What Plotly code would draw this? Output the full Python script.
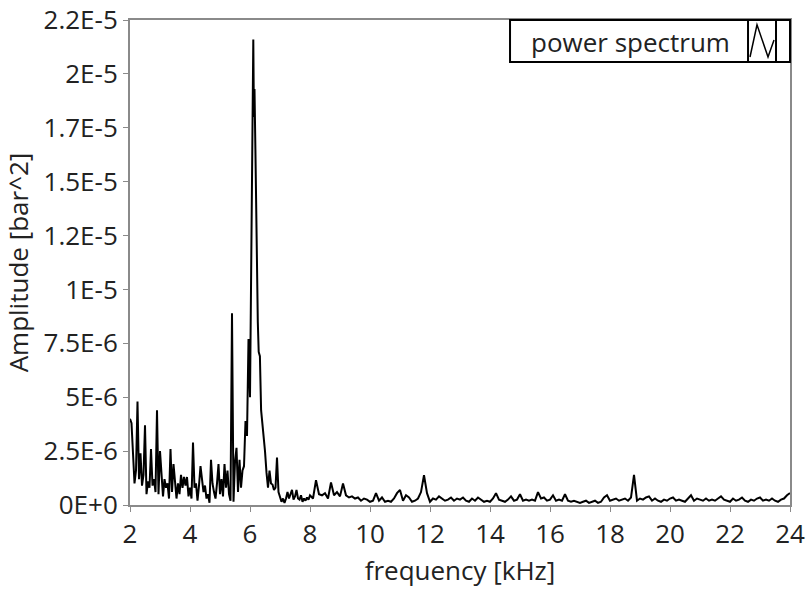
import numpy as np
import plotly.graph_objects as go

# ---------------- data (amplitude in units of 1e-6 bar^2) ----------------
# segment A: 2.00 .. 5.95 kHz, step 0.05
amp_low = [4.0, 3.8, 2.4, 1.0, 1.6, 4.8, 1.2, 2.4, 0.9, 1.4,
           3.7, 0.5, 1.1, 0.8, 2.6, 0.9, 1.2, 0.6, 4.4, 0.5,
           2.5, 1.4, 0.4, 1.2, 0.8, 1.0, 0.3, 2.6, 0.6, 1.9,
           1.0, 0.3, 1.0, 0.5, 1.4, 0.8, 1.3, 0.9, 1.3, 0.4,
           0.8, 0.3, 2.9, 0.8, 1.0, 0.2, 0.9, 1.8, 1.2, 0.6,
           0.9, 0.3, 0.5, 0.1, 2.1, 1.0, 0.6, 0.3, 1.0, 1.9,
           0.5, 1.2, 0.4, 1.9, 0.8, 1.6, 0.5, 0.2, 8.9, 0.15,
           2.0, 2.65, 0.6, 2.1, 0.8, 1.6, 1.8, 3.9, 3.2, 7.7]
# segment B: main peak, irregular frequencies
freq_peak = [6.00, 6.04, 6.08, 6.11, 6.13, 6.15, 6.18, 6.22, 6.26, 6.29,
             6.33, 6.37, 6.41, 6.45]
amp_peak = [5.0, 11.0, 16.8, 21.6, 18.0, 19.3, 16.5, 12.0, 8.5, 7.1,
            6.9, 4.4, 3.9, 3.2]
# segment C: 6.50 .. 7.95 kHz, step 0.05
amp_mid = [2.5, 1.5, 0.8, 1.6, 1.0, 0.95, 0.7, 0.8, 2.2, 0.6,
           0.35, 0.15, 0.3, 0.1, 0.3, 0.6, 0.3, 0.5, 0.7, 0.25,
           0.4, 0.7, 0.3, 0.25, 0.45, 0.15, 0.3, 0.2, 0.35, 0.25]
# segment D: 8.0 .. 24.0 kHz, step 0.1
amp_high = [0.45, 0.3, 1.15, 0.5, 0.45, 0.55, 0.3, 1.05, 0.45, 0.6,
            0.4, 1.0, 0.45, 0.35, 0.4, 0.3, 0.35, 0.2, 0.3, 0.25,
            0.15, 0.2, 0.55, 0.2, 0.35, 0.15, 0.2, 0.15, 0.3, 0.55,
            0.7, 0.2, 0.45, 0.35, 0.15, 0.2, 0.3, 0.6, 1.38, 0.55,
            0.15, 0.3, 0.25, 0.4, 0.3, 0.2, 0.25, 0.35, 0.2, 0.3,
            0.25, 0.35, 0.2, 0.15, 0.3, 0.2, 0.35, 0.25, 0.15, 0.2,
            0.15, 0.3, 0.55, 0.25, 0.2, 0.15, 0.25, 0.4, 0.2, 0.25,
            0.5, 0.2, 0.25, 0.2, 0.25, 0.2, 0.6, 0.3, 0.35, 0.2,
            0.25, 0.45, 0.2, 0.25, 0.2, 0.5, 0.2, 0.15, 0.2, 0.15,
            0.1, 0.15, 0.2, 0.1, 0.15, 0.2, 0.1, 0.15, 0.35, 0.45,
            0.2, 0.25, 0.3, 0.2, 0.25, 0.3, 0.2, 0.35, 1.4, 0.2,
            0.3, 0.25, 0.35, 0.4, 0.2, 0.3, 0.2, 0.15, 0.25, 0.2,
            0.3, 0.35, 0.2, 0.25, 0.2, 0.15, 0.3, 0.45, 0.2, 0.3,
            0.25, 0.2, 0.3, 0.2, 0.25, 0.2, 0.3, 0.4, 0.25, 0.2,
            0.15, 0.3, 0.2, 0.25, 0.35, 0.2, 0.15, 0.25, 0.2, 0.3,
            0.35, 0.2, 0.25, 0.2, 0.3, 0.2, 0.15, 0.25, 0.3, 0.45,
            0.55]

y_tickvals_e6 = [0, 2.5, 5, 7.5, 10, 12.5, 15, 17.5, 20, 22.5]
y_ticktext = ["0E+0", "2.5E-6", "5E-6", "7.5E-6", "1E-5", "1.2E-5",
              "1.5E-5", "1.7E-5", "2E-5", "2.2E-5"]
x_tickvals = [2, 4, 6, 8, 10, 12, 14, 16, 18, 20, 22, 24]

# ---------------- assemble ----------------
freq_low = list(np.round(2.0 + 0.05 * np.arange(len(amp_low)), 3))
freq_mid = list(np.round(6.5 + 0.05 * np.arange(len(amp_mid)), 3))
freq_high = list(np.round(8.0 + 0.1 * np.arange(len(amp_high)), 3))

freq = freq_low + freq_peak + freq_mid + freq_high
amp = np.array(amp_low + amp_peak + amp_mid + amp_high) * 1e-6
y_tickvals = [round(v * 1e-6, 14) for v in y_tickvals_e6]

FONT = "Open Sans"
TXT = "#222222"
AX = "#8a8a8a"
FS = 26

fig = go.Figure()
fig.add_trace(go.Scatter(x=freq, y=amp, mode="lines", name="power spectrum",
                         line=dict(color="black", width=2), showlegend=False))

fig.update_layout(
    width=807, height=597,
    margin=dict(l=130, r=17, t=20, b=92),
    paper_bgcolor="white", plot_bgcolor="white",
    font=dict(family=FONT, size=FS, color=TXT),
    xaxis=dict(range=[2, 24], tickvals=x_tickvals, ticks="outside", ticklen=5,
               tickcolor=AX, showline=True, linecolor=AX, linewidth=2, mirror=True,
               showgrid=False, zeroline=False, automargin=False,
               ticklabeloverflow="allow",
               tickfont=dict(family=FONT, size=FS, color=TXT),
               title=dict(text="frequency [kHz]", standoff=12,
                          font=dict(family=FONT, size=FS, color=TXT))),
    yaxis=dict(range=[0, 2.25e-5 + 1e-11], tickvals=y_tickvals,
               ticktext=y_ticktext, ticks="outside", ticklen=5, tickcolor=AX,
               showline=True, linecolor=AX, linewidth=2, mirror=True,
               showgrid=False, zeroline=False, automargin=False,
               ticklabeloverflow="allow",
               tickfont=dict(family=FONT, size=FS, color=TXT),
               title=dict(text="Amplitude [bar^2]", standoff=8,
                          font=dict(family=FONT, size=FS, color=TXT))),
)

# legend-like box (top right)
fig.add_shape(type="rect", xref="paper", yref="paper", x0=0.5758, x1=1.0,
              y0=0.9134, y1=1.0, line=dict(color="black", width=2),
              fillcolor="white", layer="above")
fig.add_shape(type="rect", xref="paper", yref="paper", x0=0.9364, x1=0.9788,
              y0=0.9134, y1=1.0, line=dict(color="black", width=2), layer="above")
fig.add_shape(type="path", xref="paper", yref="paper",
              path="M 0.9394 0.9237 L 0.9500 0.9900 L 0.9667 0.9237 L 0.9758 0.9588",
              line=dict(color="black", width=1.5), layer="above")
fig.add_annotation(xref="paper", yref="paper", x=0.7576, y=0.9546,
                   text="power spectrum", showarrow=False,
                   font=dict(family=FONT, size=FS, color=TXT),
                   xanchor="center", yanchor="middle")

fig.write_html("out.html")
